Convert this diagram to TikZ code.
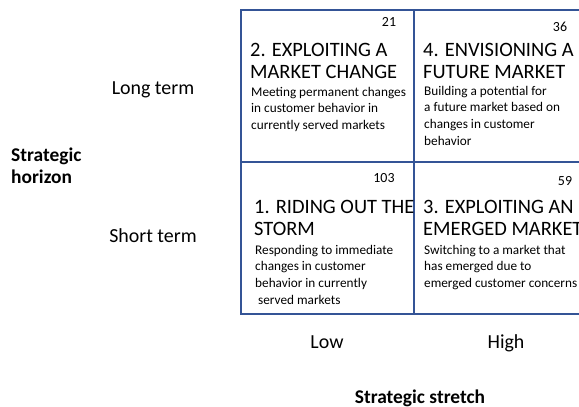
\documentclass[tikz,border=0pt]{standalone}
\usepackage{fontspec}
\setmainfont{Carlito}
\definecolor{gridblue}{RGB}{52,84,150}
\begin{document}
\begin{tikzpicture}[x=1bp,y=-1bp,
  gridline/.style={draw=gridblue,line width=2bp},
  title/.style={anchor=base west,inner sep=0pt,align=left,font=\fontsize{20.5}{22.5}\selectfont},
  body/.style={anchor=base west,inner sep=0pt,align=left,font=\fontsize{13.3}{16.7}\selectfont},
  num/.style={anchor=base,inner sep=0pt,font=\fontsize{14}{16}\selectfont},
  axis/.style={anchor=base,inner sep=0pt,font=\fontsize{20}{22}\selectfont},
  axistitle/.style={inner sep=0pt,align=left,font=\fontsize{19.5}{22}\selectfont\bfseries}]
\useasboundingbox (0,0) rectangle (579,406);
\clip (0,0) rectangle (579,406);
% grid
\coordinate (tl) at (241,10);
\coordinate (br) at (587,314);
\draw[gridline] (tl) rectangle (br);
\coordinate (vt) at (414,10);
\coordinate (vb) at (414,314);
\coordinate (hl) at (241,162);
\coordinate (hr) at (587,162);
\draw[gridline] (vt) -- (vb);
\draw[gridline] (hl) -- (hr);
% top-left cell (base anchor = baseline of last line)
\node[num] (n21) at (389,26) {21};
\node[title] (t2) at (250,78.5) {2. EXPLOITING A\\MARKET CHANGE};
\node[body] (b2) at (251,129.4) {Meeting permanent changes\\in customer behavior in\\currently served markets};
% top-right cell
\node[num] (n36) at (560,31) {36};
\node[title] (t4) at (423,78.5) {4. ENVISIONING A\\FUTURE MARKET};
\node[body] (b4) at (424,145.1) {Building a potential for\\a future market based on\\changes in customer\\behavior};
% bottom-left cell
\node[num] (n103) at (384,182) {103};
\node[title] (t1) at (254,235.5) {1. RIDING OUT THE\\STORM};
\node[body] (b1) at (255,304.1) {Responding to immediate\\changes in customer\\behavior in currently\\\ served markets};
% bottom-right cell
\node[num] (n59) at (565,185) {59};
\node[title] (t3) at (423,235.5) {3. EXPLOITING AN\\EMERGED MARKET};
\node[body] (b3) at (424,287.4) {Switching to a market that\\has emerged due to\\emerged customer concerns};
% axes
\node[axis] (long) at (153,94) {Long term};
\node[axis] (short) at (153,242) {Short term};
\node[axistitle,anchor=base west] (sh) at (11,183) {Strategic\\horizon};
\node[axis] (low) at (327,348) {Low};
\node[axis] (high) at (506,348) {High};
\node[axistitle,anchor=base] (ss) at (420,403) {Strategic stretch};
\end{tikzpicture}
\end{document}
